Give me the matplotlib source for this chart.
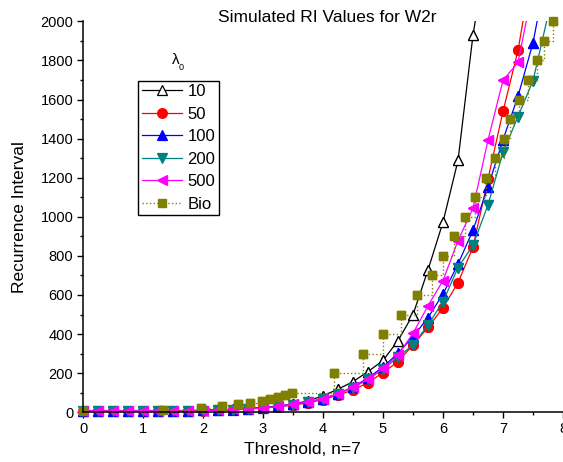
import matplotlib
matplotlib.use('Agg')
import numpy as np
import matplotlib.pyplot as plt
from matplotlib.ticker import MultipleLocator

plt.rcParams['font.family'] = ['Liberation Sans', 'DejaVu Sans']

threshold = [0.0, 0.25, 0.5, 0.75, 1.0, 1.25, 1.5, 1.75, 2.0, 2.25, 2.5, 2.75,
             3.0, 3.25, 3.5, 3.75, 4.0, 4.25, 4.5, 4.75, 5.0, 5.25, 5.5, 5.75,
             6.0, 6.25, 6.5, 6.75, 7.0, 7.25, 7.5, 7.75]

ri_10 = [8, 8, 8, 8, 8, 8, 8, 9, 10, 12, 15, 19, 25, 32, 42, 58, 85, 118,
         157, 208, 265, 366, 500, 728, 973, 1288, 1930, 2400]
ri_50 = [8, 8, 8, 8, 8, 8, 8, 8, 9, 11, 13, 17, 22, 28, 37, 48, 65, 88,
         114, 152, 203, 259, 345, 434, 535, 663, 845, 1194, 1539, 1851, 2300]
ri_100 = [9, 9, 9, 9, 9, 9, 9, 9, 10, 12, 14, 18, 23, 30, 40, 52, 70, 95,
          130, 175, 232, 302, 387, 484, 605, 758, 932, 1152, 1394, 1616, 1890, 2290]
ri_200 = [8, 8, 8, 8, 8, 8, 8, 8, 9, 11, 13, 17, 22, 29, 39, 52, 70, 94,
          126, 168, 220, 282, 345, 447, 566, 740, 855, 1061, 1329, 1513, 1696, 2030]
ri_500 = [8, 8, 8, 8, 8, 8, 8, 8, 9, 11, 15, 18, 22, 30, 41, 54, 68, 94,
          128, 170, 225, 293, 404, 545, 674, 878, 1044, 1392, 1698, 1790, 2170]

bio_x = [0.0, 1.33, 1.97, 2.32, 2.58, 2.79, 2.98, 3.12, 3.25, 3.37, 3.48,
         4.19, 4.67, 5.0, 5.3, 5.57, 5.81, 6.0, 6.18, 6.37, 6.53, 6.71, 6.87,
         7.02, 7.12, 7.26, 7.42, 7.56, 7.69, 7.83]
bio_y = [5, 10, 20, 30, 40, 50, 60, 70, 80, 90, 100,
         200, 300, 400, 500, 600, 700, 800, 900, 1000, 1100, 1200, 1300,
         1400, 1500, 1600, 1700, 1800, 1900, 2000]

series = [
    ('10', ri_10, 'black', '^', 'white'),
    ('50', ri_50, '#ff0000', 'o', '#ff0000'),
    ('100', ri_100, '#0000ff', '^', '#0000ff'),
    ('200', ri_200, '#008080', 'v', '#008080'),
    ('500', ri_500, '#ff00ff', '<', '#ff00ff'),
]

fig = plt.figure(figsize=(5.63, 4.62), dpi=100)
ax = fig.add_axes([83 / 563, 1 - 412.3 / 462, 480 / 563, 391 / 462])

handles = []
for name, vals, col, mk, face in series:
    xs = threshold[:len(vals)]
    ln, = ax.plot(xs, vals, color=col, lw=0.9, marker=mk, ms=7,
                  mfc=face, mec=col, mew=0.9, label=name)
    # markers inside the range drawn unclipped, like Origin does
    keep = [i for i, v in enumerate(vals) if v <= 2000]
    ax.plot([xs[i] for i in keep], [vals[i] for i in keep], ls='none',
            marker=mk, ms=7, mfc=face, mec=col, mew=0.9, clip_on=False)
    handles.append(ln)

ln, = ax.plot(bio_x, bio_y, color='#808000', lw=1.0, ls=':',
              drawstyle='steps-post', marker='s', ms=6, mfc='#808000',
              mec='#808000', label='Bio')
ax.plot(bio_x, bio_y, ls='none', marker='s', ms=6, mfc='#808000',
        mec='#808000', clip_on=False)
handles.append(ln)

ax.set_xlim(0, 8)
ax.set_ylim(0, 2000)
ax.xaxis.set_major_locator(MultipleLocator(1))
ax.xaxis.set_minor_locator(MultipleLocator(0.5))
ax.yaxis.set_major_locator(MultipleLocator(200))
ax.yaxis.set_minor_locator(MultipleLocator(100))
ax.spines['top'].set_visible(False)
ax.spines['right'].set_visible(False)
ax.spines['left'].set_linewidth(1.1)
ax.spines['bottom'].set_linewidth(1.1)
ax.tick_params(which='major', direction='out', length=4, width=1.0,
               labelsize=10.5, pad=3)
ax.tick_params(which='minor', direction='out', length=2.5, width=1.0)

fig.text(327 / 563, 1 - 17 / 462, 'Simulated RI Values for W2r',
         ha='center', va='center', fontsize=12.5)
fig.text(302 / 563, 1 - 449 / 462, 'Threshold, n=7',
         ha='center', va='center', fontsize=12.5)
fig.text(19.5 / 563, 1 - 217 / 462, 'Recurrence Interval',
         ha='center', va='center', rotation=90, fontsize=12.5)

leg = ax.legend(handles=handles, loc='upper left',
                bbox_to_anchor=(138.3 / 563, 1 - 80.7 / 462),
                bbox_transform=fig.transFigure, fontsize=12,
                frameon=True, fancybox=False, framealpha=1,
                edgecolor='black', borderaxespad=0, borderpad=0.2,
                handlelength=2.4, handletextpad=0.35, labelspacing=0.45)
leg.get_frame().set_linewidth(1.0)

fig.text(176 / 563, 1 - 60 / 462, 'λ', ha='center', va='center', fontsize=11)
fig.text(181 / 563, 1 - 67 / 462, '0', ha='center', va='center', fontsize=6.5)

fig.savefig('out.png', dpi=100)
